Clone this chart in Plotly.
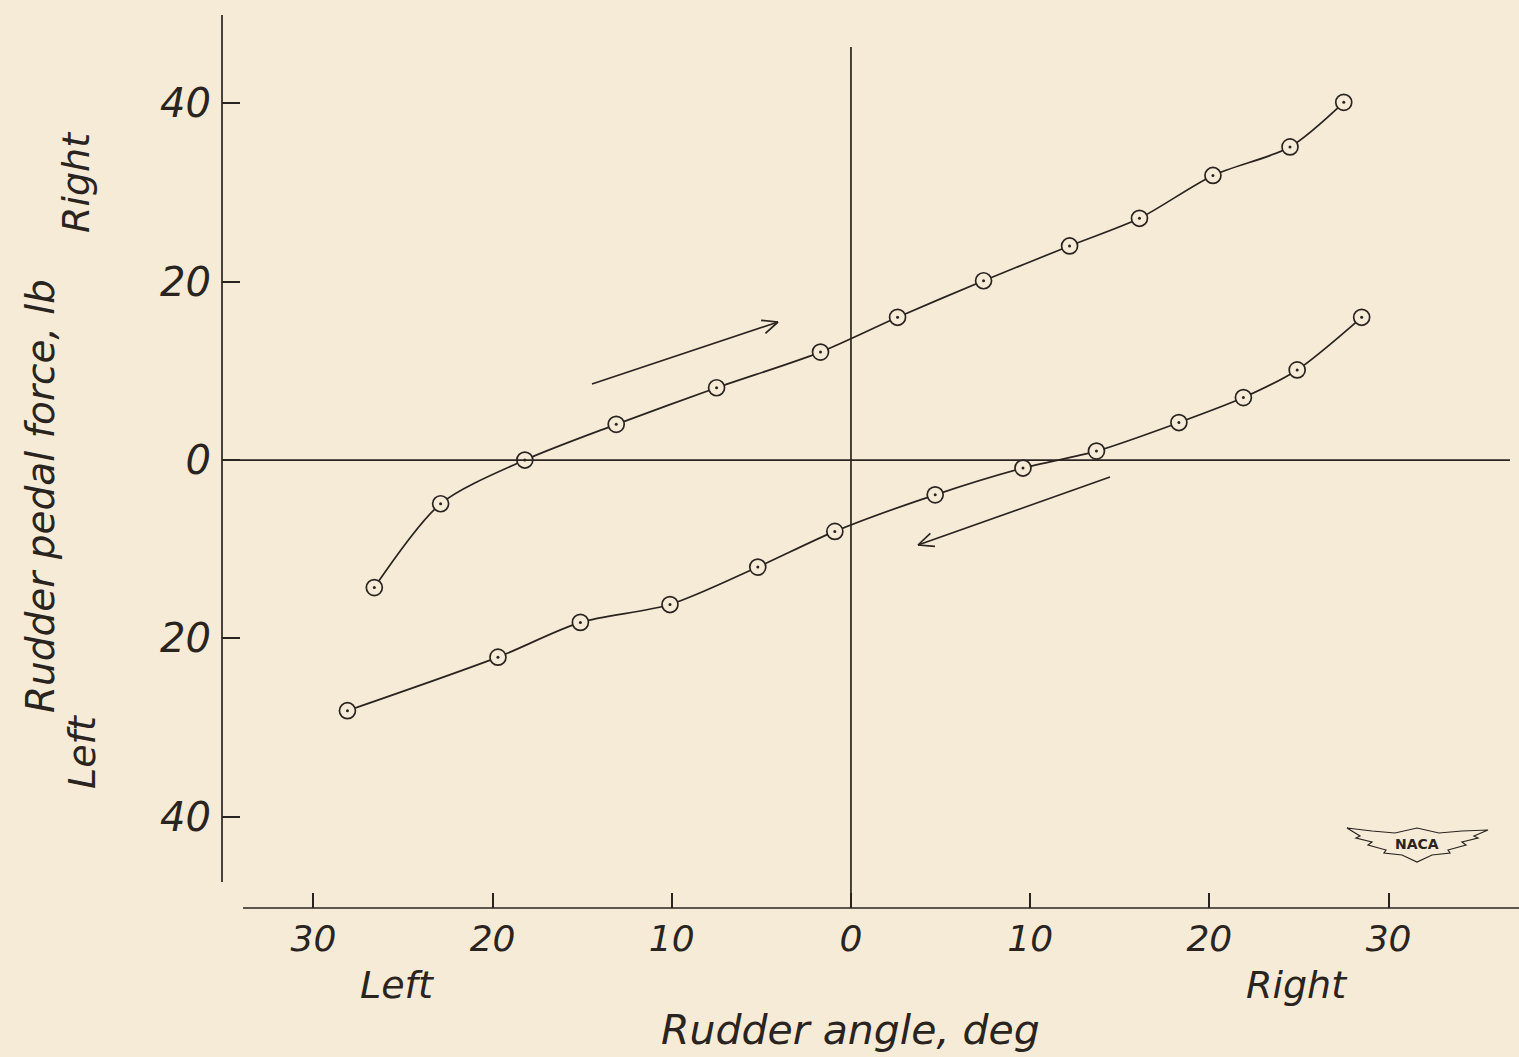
import math
import plotly.graph_objects as go

# Data (rudder angle: left negative, right positive; force: left negative)
up_angle = [-26.6, -22.9, -18.2, -13.1, -7.5, -1.7, 2.6, 7.4, 12.2, 16.1, 20.2, 24.5, 27.5]
up_force = [-14.3, -4.9, 0.0, 4.0, 8.1, 12.1, 16.0, 20.1, 24.0, 27.1, 31.9, 35.1, 40.1]
down_angle = [-28.1, -19.7, -15.1, -10.1, -5.2, -0.9, 4.7, 9.6, 13.7, 18.3, 21.9, 24.9, 28.5]
down_force = [-28.1, -22.1, -18.2, -16.2, -12.0, -8.0, -3.9, -0.9, 1.0, 4.2, 7.0, 10.1, 16.0]

x_tickvals = [-30, -20, -10, 0, 10, 20, 30]
x_ticktext = ["30", "20", "10", "0", "10", "20", "30"]
y_tickvals = [40, 20, 0, -20, -40]
y_ticktext = ["40", "20", "0", "20", "40"]

INK = "#2a2420"
BG = "#F6EBD7"
FONT = "DejaVu Sans, sans-serif"

W, H = 1519, 1057
ML, MR, MT, MB = 222, 0, 15, 149
PW = W - ML - MR
PH = H - MT - MB

X_RANGE = [-35.10, 37.28]
Y_RANGE = [-50.22, 49.89]


def pxx(p):
    return (p - ML) / PW


def pxy(p):
    return (H - MB - p) / PH


def dx(p):
    return X_RANGE[0] + (p - ML) / PW * (X_RANGE[1] - X_RANGE[0])


def dy(p):
    return Y_RANGE[0] + (H - MB - p) / PH * (Y_RANGE[1] - Y_RANGE[0])


def tfont(size):
    return dict(family=FONT, size=size, color=INK, style="italic", weight=300)


fig = go.Figure()

for xs, ys in [(up_angle, up_force), (down_angle, down_force)]:
    fig.add_trace(go.Scatter(
        x=xs, y=ys, mode="lines+markers",
        line=dict(color=INK, width=1.7, shape="spline", smoothing=0.8),
        marker=dict(symbol="circle", size=16, color=BG, line=dict(color=INK, width=1.7)),
        showlegend=False, hoverinfo="skip"))
    fig.add_trace(go.Scatter(
        x=xs, y=ys, mode="markers",
        marker=dict(symbol="circle", size=3, color=INK),
        showlegend=False, hoverinfo="skip"))

LINE = dict(color=INK, width=1.7)
shapes = [
    dict(type="line", xref="paper", yref="y", x0=0, x1=0, y0=dy(882), y1=Y_RANGE[1], line=LINE),
    dict(type="line", xref="x", yref="paper", x0=dx(243), x1=X_RANGE[1], y0=0, y1=0, line=LINE),
    dict(type="line", xref="x", yref="y", x0=X_RANGE[0], x1=dx(1510), y0=0, y1=0, line=LINE),
    dict(type="line", xref="x", yref="y", x0=0, x1=0, y0=Y_RANGE[0], y1=dy(47), line=LINE),
]


def arrow(x0, y0, x1, y1, barb=17, ang=24):
    out = [dict(type="line", xref="x", yref="y", x0=dx(x0), y0=dy(y0), x1=dx(x1), y1=dy(y1), line=LINE)]
    vx, vy = x0 - x1, y0 - y1
    L = math.hypot(vx, vy)
    vx, vy = vx / L, vy / L
    for s in (-1, 1):
        a = math.radians(ang * s)
        bx = vx * math.cos(a) - vy * math.sin(a)
        by = vx * math.sin(a) + vy * math.cos(a)
        out.append(dict(type="line", xref="x", yref="y", x0=dx(x1), y0=dy(y1),
                        x1=dx(x1 + bx * barb), y1=dy(y1 + by * barb), line=LINE))
    return out


shapes += arrow(592, 384, 778, 322)
shapes += arrow(1110, 477, 918, 545)

# NACA wing emblem
wing = [(1347, 828), (1372, 831), (1395, 833), (1417, 828), (1439, 833), (1462, 831), (1488, 830),
        (1474, 836), (1478, 838), (1462, 842), (1466, 845), (1448, 850), (1450, 853), (1432, 855),
        (1417, 862), (1402, 855), (1384, 853), (1386, 850), (1368, 845), (1372, 842), (1356, 838),
        (1360, 836)]
path = "M " + " L ".join(f"{pxx(a):.5f},{pxy(b):.5f}" for a, b in wing) + " Z"
shapes.append(dict(type="path", xref="paper", yref="paper", path=path,
                   line=dict(color=INK, width=1.2), fillcolor=BG))


def label(px, py, text, size, angle=0, fam=None):
    f = tfont(size) if fam is None else fam
    return dict(x=pxx(px), y=pxy(py), xref="paper", yref="paper", text=text,
                xanchor="center", yanchor="middle", textangle=angle,
                showarrow=False, font=f)


annotations = [
    label(1417, 844, "<b>NACA</b>", 14,
          fam=dict(family="DejaVu Sans, sans-serif", size=14, color=INK)),
    label(397, 985, "Left", 38),
    label(1297, 985, "Right", 38),
    label(850, 1030, "Rudder angle, deg", 41),
    label(40, 496, "Rudder pedal force, lb", 39, angle=-90),
    label(76, 182, "Right", 38, angle=-90),
    label(82, 752, "Left", 38, angle=-90),
]

fig.update_layout(
    width=W, height=H,
    margin=dict(l=ML, r=MR, t=MT, b=MB, pad=0),
    paper_bgcolor=BG, plot_bgcolor=BG,
    shapes=shapes, annotations=annotations,
    xaxis=dict(range=X_RANGE, showgrid=False, zeroline=False, showline=False,
               tickmode="array", tickvals=x_tickvals, ticktext=x_ticktext,
               ticks="inside", ticklen=15, tickwidth=1.7, tickcolor=INK,
               ticklabelstandoff=6, tickfont=tfont(36)),
    yaxis=dict(range=Y_RANGE, showgrid=False, zeroline=False, showline=False,
               tickmode="array", tickvals=y_tickvals, ticktext=y_ticktext,
               ticks="inside", ticklen=18, tickwidth=1.7, tickcolor=INK,
               ticklabelstandoff=10, tickfont=tfont(40)),
)

fig.write_html(
    "out.html",
    config={"displayModeBar": False},
    post_script="document.body.style.margin='0';document.body.style.background='%s';" % BG,
)
